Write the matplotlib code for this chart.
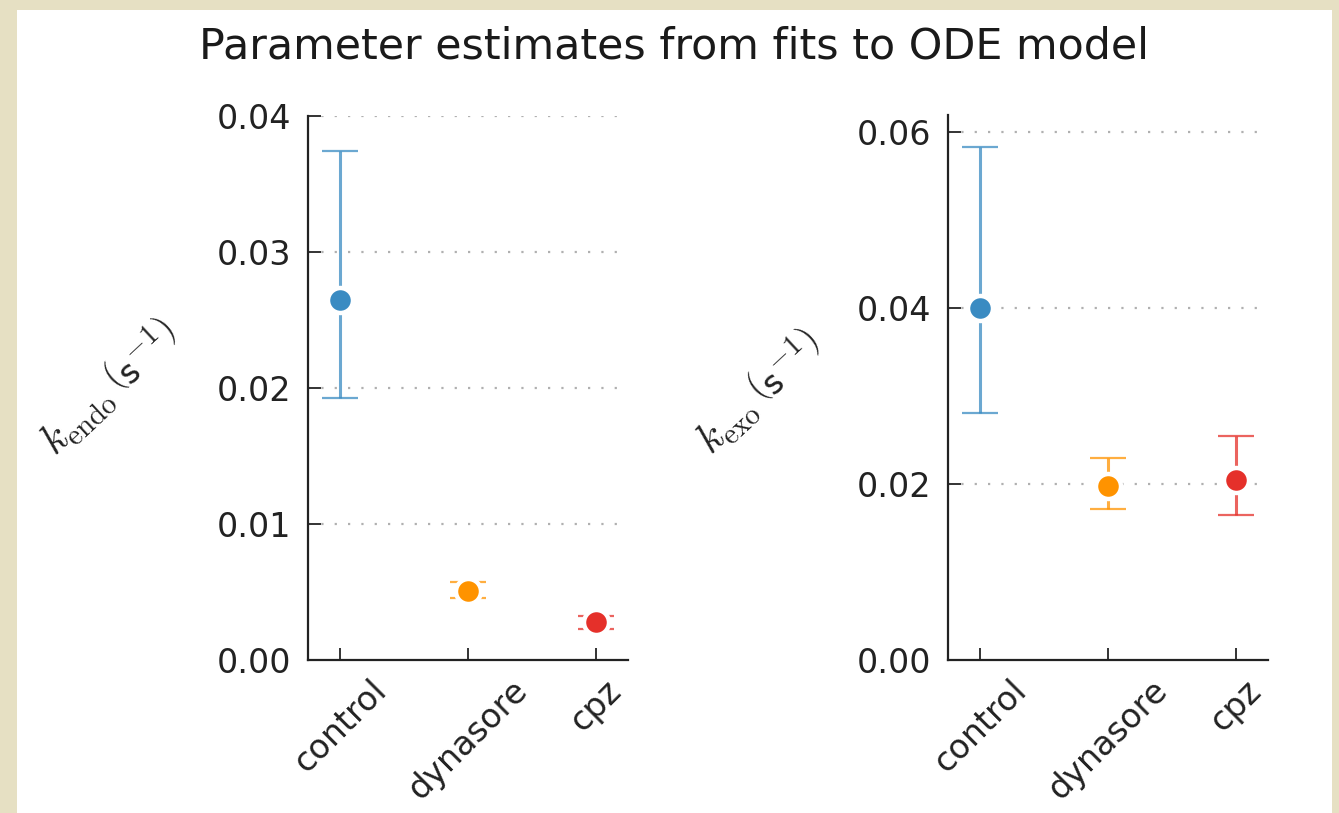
import matplotlib
matplotlib.use('Agg')
import matplotlib.pyplot as plt
from matplotlib.patches import Rectangle

# Data
conditions = ['control', 'dynasore', 'cpz']
colors = ['#3a8bc2', '#ff9300', '#e5302a']

k_endo = [0.02647, 0.00507, 0.00279]
k_endo_low = [0.01926, 0.00456, 0.00228]
k_endo_high = [0.03743, 0.00574, 0.00324]

k_exo = [0.0400, 0.01977, 0.02045]
k_exo_low = [0.02807, 0.01716, 0.01648]
k_exo_high = [0.0583, 0.02295, 0.02545]

plt.rcParams['font.family'] = ['DejaVu Sans']
plt.rcParams['mathtext.fontset'] = 'cm'

fig = plt.figure(figsize=(13.39, 8.13), dpi=100)
fig.patch.set_facecolor('#e6e0c3')
# white slide area
fig.patches.append(Rectangle((17 / 1339, 0), 1315 / 1339, 803 / 813,
                             transform=fig.transFigure, facecolor='white',
                             edgecolor='none', zorder=-10))

ax1 = fig.add_axes([308 / 1339, 153 / 813, 320 / 1339, 544 / 813])
ax2 = fig.add_axes([948 / 1339, 153 / 813, 320 / 1339, 545 / 813])
for ax in (ax1, ax2):
    ax.set_facecolor('none')


def draw_panel(ax, vals, lows, highs, ylim, yticks, ylabel, label_xy):
    for i, (v, lo, hi, c) in enumerate(zip(vals, lows, highs, colors)):
        ax.errorbar(i, v, yerr=[[v - lo], [hi - v]], fmt='none', ecolor=c,
                    elinewidth=2.2, capsize=13, capthick=1.6, alpha=0.75,
                    zorder=3)
        ax.plot(i, v, 'o', color=c, markersize=18, markeredgecolor='white',
                markeredgewidth=3.2, zorder=4)
    ax.set_xlim(-0.25, 2.25)
    ax.set_ylim(*ylim)
    ax.set_yticks(yticks)
    ax.set_yticklabels(['%.2f' % t for t in yticks])
    ax.set_xticks(range(len(conditions)))
    ax.set_xticklabels(conditions, rotation=45)
    for t in yticks[1:]:
        ax.axhline(t, color='#b0b0b0', linestyle=(0, (1, 5)), linewidth=1.6,
                   zorder=1)
    ax.spines['top'].set_visible(False)
    ax.spines['right'].set_visible(False)
    for s in ['left', 'bottom']:
        ax.spines[s].set_linewidth(1.6)
        ax.spines[s].set_color('#222222')
    ax.tick_params(direction='in', length=9, width=1.4, color='#333333',
                   labelsize=24, labelcolor='#222222')
    ax.tick_params(axis='y', pad=12)
    ax.tick_params(axis='x', pad=10)
    ax.set_ylabel(ylabel, fontsize=30, rotation=43, color='#222222',
                  ha='center', va='center', rotation_mode='anchor')
    ax.yaxis.set_label_coords(*label_xy)


draw_panel(ax1, k_endo, k_endo_low, k_endo_high, (0, 0.04),
           [0.0, 0.01, 0.02, 0.03, 0.04],
           r'$k_{\mathrm{endo}}\,\left(\mathsf{s}^{-1}\right)$', (-0.62, 0.50))
draw_panel(ax2, k_exo, k_exo_low, k_exo_high, (0, 0.0619),
           [0.0, 0.02, 0.04, 0.06],
           r'$k_{\mathrm{exo}}\,\left(\mathsf{s}^{-1}\right)$', (-0.59, 0.49))

fig.text(0.503, 0.943, 'Parameter estimates from fits to ODE model',
         ha='center', va='center', fontsize=30.8, color='#1a1a1a')

fig.savefig('out.png', dpi=100, facecolor=fig.get_facecolor())
plt.close(fig)
